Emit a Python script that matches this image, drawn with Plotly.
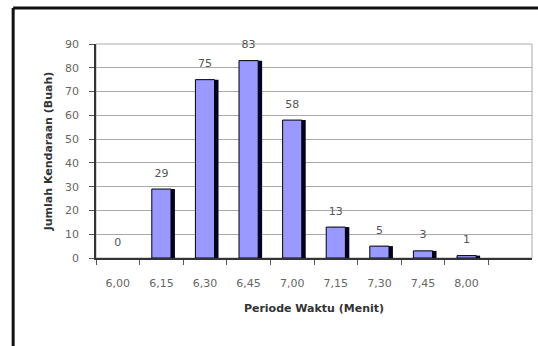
import plotly.graph_objects as go

# Time-period categories and vehicle counts
periods = ["6,00", "6,15", "6,30", "6,45", "7,00", "7,15", "7,30", "7,45", "8,00"]
counts = [0, 29, 75, 83, 58, 13, 5, 3, 1]
y_ticks = [0, 10, 20, 30, 40, 50, 60, 70, 80, 90]

BAR_W = 0.44
SHIFT = 0.09
FONT = "DejaVu Sans, Verdana, sans-serif"

# zero-height bars get no outline
outline = [0 if v == 0 else 1 for v in counts]

fig = go.Figure()

# dark side face giving the bars a raised look
fig.add_trace(go.Bar(
    x=periods, y=counts, width=BAR_W, offset=-BAR_W / 2 + SHIFT,
    marker=dict(color="#000020", line=dict(width=0)),
    hoverinfo="skip", showlegend=False,
))

# front face of the bars
fig.add_trace(go.Bar(
    x=periods, y=counts, width=BAR_W, offset=-BAR_W / 2,
    marker=dict(color="#9999FF", line=dict(color="#000000", width=outline)),
    showlegend=False,
))

# value labels above each bar (invisible marker lifts the text)
fig.add_trace(go.Scatter(
    x=periods, y=counts, mode="markers+text", text=[str(v) for v in counts],
    textposition="top center",
    marker=dict(size=14, opacity=0),
    textfont=dict(family=FONT, size=11, color="#555555"),
    cliponaxis=False, showlegend=False, hoverinfo="skip",
))

fig.update_layout(
    width=538, height=346,
    margin=dict(l=96, r=6, t=44, b=88),
    barmode="overlay",
    paper_bgcolor="white", plot_bgcolor="white",
    font=dict(family=FONT, size=11, color="#555555"),
    xaxis=dict(
        type="category", range=[-0.5, 9.5],
        tickson="boundaries", ticks="outside", ticklen=5, tickcolor="#555555",
        showline=True, linecolor="#333333", linewidth=1.5,
        showgrid=False, tickfont=dict(family=FONT, size=11, color="#666666"),
        ticklabelstandoff=14,
        title=dict(text="<b>Periode Waktu (Menit)</b>", standoff=15,
                   font=dict(family=FONT, size=11, color="#333333")),
    ),
    yaxis=dict(
        range=[0, 90], tickvals=y_ticks, ticks="outside", ticklen=5,
        tickcolor="#555555", showline=True, linecolor="#333333", linewidth=1.5,
        showgrid=True, gridcolor="#aaaaaa", gridwidth=1,
        tickfont=dict(family=FONT, size=11, color="#666666"), zeroline=False,
        ticklabelstandoff=8,
        title=dict(text="<b>Jumlah Kendaraan (Buah)</b>", standoff=10,
                   font=dict(family=FONT, size=11, color="#333333")),
    ),
    shapes=[
        # light frame around the plotting area
        dict(type="rect", xref="paper", yref="paper", x0=0, x1=1, y0=0, y1=1,
             line=dict(color="#aaaaaa", width=1), layer="below"),
        # heavy outer border of the chart (top and left edges)
        dict(type="line", xref="paper", yref="paper", x0=-0.19, x1=1.02,
             y0=1.168, y1=1.168, line=dict(color="#111111", width=3)),
        dict(type="line", xref="paper", yref="paper", x0=-0.19, x1=-0.19,
             y0=1.168, y1=-0.42, line=dict(color="#111111", width=3)),
    ],
)

fig.write_html("out.html")
